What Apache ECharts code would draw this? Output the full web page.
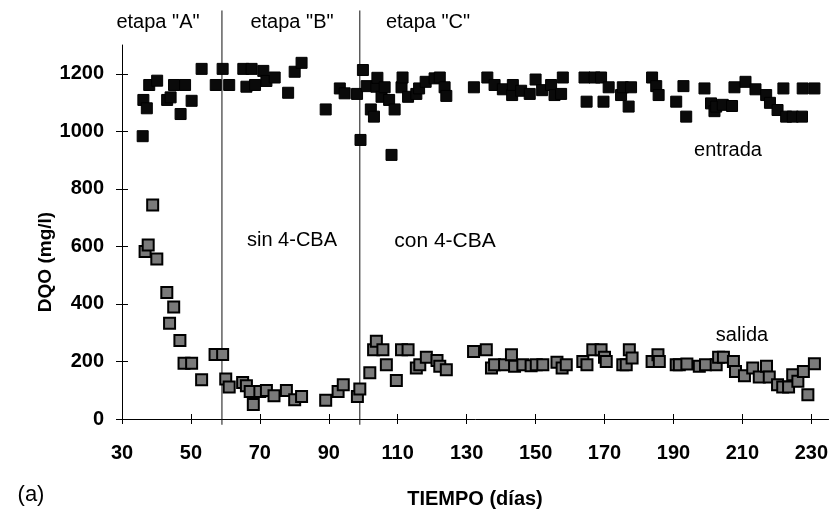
<!DOCTYPE html>
<html>
<head>
<meta charset="utf-8">
<script src="https://cdn.jsdelivr.net/npm/echarts@6/dist/echarts.min.js"></script>
<style>
  html, body { margin: 0; padding: 0; background: #fff; }
</style>
</head>
<body>
<div id="myChart" style="width:831px;height:509px"></div>
<script>
// ticks
var xTicks = [30, 50, 70, 90, 110, 130, 150, 170, 190, 210, 230];
var yTicks = [0, 200, 400, 600, 800, 1000, 1200];

// DQO de entrada (mg/l)
var entradaDias = [36.0, 36.2, 37.2, 37.9, 40.2, 43.1, 44.1, 45.1, 47.0, 48.3, 50.2, 53.1, 57.2, 59.2, 61.1,
  65.2, 66.1, 67.6, 68.6, 71.0, 71.9, 74.3, 78.2, 80.1, 82.1, 89.1, 93.2, 94.6, 98.2, 99.2, 99.9,
  101.0, 102.2, 103.1, 103.8, 104.1, 105.3, 106.2, 107.5, 108.2, 109.1, 111.1, 111.4, 113.0, 115.4,
  116.2, 118.1, 120.7, 122.2, 123.6, 124.1, 132.1, 136.0, 138.1, 140.5, 143.2, 143.4, 145.8, 148.3,
  150.0, 151.9, 154.5, 155.5, 157.4, 157.9, 164.2, 164.8, 167.1, 169.0, 169.7, 171.2, 174.8, 175.3,
  177.0, 177.7, 183.8, 185.0, 185.7, 190.8, 192.9, 193.7, 199.0, 200.9, 201.9, 202.4, 204.3, 207.0,
  207.7, 210.9, 213.8, 216.9, 218.0, 220.2, 221.9, 222.7, 224.6, 227.3, 227.5, 230.9];
var entradaDQO = [983, 1109, 1080, 1161, 1176, 1109, 1118, 1161, 1060, 1161, 1106, 1217, 1161, 1217, 1161,
  1217, 1155, 1217, 1161, 1210, 1175, 1187, 1134, 1207, 1238, 1076, 1149, 1132, 1130, 970, 1213,
  1157, 1076, 1051, 1155, 1186, 1120, 1153, 1109, 918, 1076, 1153, 1187, 1120, 1130,
  1149, 1172, 1184, 1187, 1153, 1123, 1153, 1187, 1161, 1146, 1126, 1161, 1141, 1130,
  1180, 1143, 1161, 1126, 1130, 1187, 1187, 1103, 1187, 1187, 1103, 1153, 1126, 1153,
  1086, 1153, 1187, 1157, 1126, 1103, 1157, 1051, 1149, 1097, 1070, 1086, 1092, 1088,
  1153, 1172, 1146, 1126, 1099, 1074, 1149, 1051, 1051, 1051, 1149, 1149];

// DQO de salida (mg/l)
var salidaDias = [36.7, 37.6, 38.9, 40.1, 43.0, 43.8, 45.0, 46.8, 48.0, 50.2, 53.1, 57.0, 59.2, 60.1, 61.1,
  65.0, 66.1, 67.2, 68.1, 70.0, 71.9, 74.1, 77.7, 80.1, 82.1, 89.1, 92.7, 94.2, 98.3, 99.0,
  101.9, 103.0, 103.8, 105.7, 106.7, 109.6, 111.1, 113.0, 115.4, 116.4, 118.3, 121.4, 122.2, 124.1,
  132.0, 135.7, 137.2, 138.1, 141.0, 143.0, 143.9, 146.3, 148.7, 150.2, 152.1, 156.2, 157.7, 158.9,
  163.7, 164.9, 166.6, 169.0, 170.0, 170.5, 175.3, 176.3, 177.2, 178.0, 183.8, 185.5, 185.9,
  190.8, 191.7, 193.9, 197.5, 199.3, 202.4, 203.1, 204.5, 207.4, 208.0, 210.6, 213.0, 214.9,
  217.0, 217.8, 220.2, 221.7, 223.4, 224.6, 226.1, 227.7, 229.0, 230.9];
var salidaDQO = [582, 605, 744, 556, 440, 333, 389, 273, 194, 194, 136, 224, 224, 139, 111,
  127, 116, 96, 50, 96, 99, 81, 99, 67, 78, 65, 96, 119, 78, 104,
  161, 241, 270, 241, 189, 134, 241, 241, 177, 189, 215, 203, 183, 171,
  235, 241, 177, 189, 189, 223, 183, 189, 185, 189, 189, 197, 177, 189,
  200, 189, 241, 241, 215, 200, 189, 189, 241, 212, 200, 223, 200,
  189, 189, 191, 183, 189, 189, 215, 215, 200, 165, 150, 177, 146,
  183, 146, 119, 111, 111, 154, 131, 165, 84, 192];

// limites entre etapas (dias)
var etapaLimites = [59, 99];

var fuente = "'Liberation Sans', Arial, sans-serif";

function pares(xs, ys) {
  return xs.map(function (x, i) { return [x, ys[i]]; });
}

var series = [
  {
    name: "entrada",
    type: "scatter",
    symbol: "rect",
    symbolSize: 11,
    itemStyle: { color: "#0a0a0a", borderColor: "#000", borderWidth: 1, opacity: 1 },
    data: pares(entradaDias, entradaDQO),
    z: 3
  },
  {
    name: "salida",
    type: "scatter",
    symbol: "rect",
    symbolSize: 11,
    itemStyle: { color: "#7a7a7a", borderColor: "#000", borderWidth: 2, opacity: 1 },
    data: pares(salidaDias, salidaDQO),
    z: 3
  }
];

etapaLimites.forEach(function (d) {
  series.push({
    type: "line",
    silent: true,
    clip: false,
    symbol: "none",
    lineStyle: { color: "#111", width: 1 },
    data: [[d, -20], [d, 1420]],
    z: 2
  });
});

function texto(t, x, y, size, weight, rot) {
  return {
    type: "text",
    x: x,
    y: y,
    rotation: rot || 0,
    style: {
      text: t,
      font: (weight || "normal") + " " + size + "px " + fuente,
      fill: "#000",
      align: "center",
      verticalAlign: "middle"
    }
  };
}

function simple(v) { return String(v); }

var option = {
  backgroundColor: "#fff",
  animation: false,
  grid: { left: 122, right: 2, top: 45, bottom: 90 },
  xAxis: [
    {
      type: "value",
      min: 30,
      max: 235,
      interval: 20,
      axisLine: { onZero: false, lineStyle: { color: "#000", width: 1 } },
      axisTick: { customValues: xTicks, length: 5, lineStyle: { color: "#000" } },
      axisLabel: { customValues: xTicks, formatter: simple, margin: 24, color: "#000", fontSize: 20, fontWeight: "bold", fontFamily: fuente },
      splitLine: { show: false }
    },
    {
      type: "value",
      min: 30,
      max: 235,
      interval: 20,
      position: "bottom",
      axisLine: { show: false },
      axisTick: { customValues: xTicks, inside: true, length: 5, lineStyle: { color: "#000" } },
      axisLabel: { show: false },
      splitLine: { show: false }
    }
  ],
  yAxis: [
    {
      type: "value",
      min: 0,
      max: 1300,
      interval: 200,
      axisLine: { show: true, onZero: false, lineStyle: { color: "#000", width: 1 } },
      axisTick: { show: true, customValues: yTicks, length: 6, lineStyle: { color: "#000" } },
      axisLabel: { customValues: yTicks, formatter: simple, margin: 18, color: "#000", fontSize: 20, fontWeight: "bold", fontFamily: fuente },
      splitLine: { show: false }
    },
    {
      type: "value",
      min: 0,
      max: 1300,
      interval: 200,
      position: "left",
      axisLine: { show: false },
      axisTick: { show: true, customValues: yTicks, inside: true, length: 6, lineStyle: { color: "#000" } },
      axisLabel: { show: false },
      splitLine: { show: false }
    }
  ],
  series: series,
  graphic: [
    texto('etapa "A"', 158, 22, 20),
    texto('etapa "B"', 292, 22, 20),
    texto('etapa "C"', 428, 22, 20),
    texto("sin 4-CBA", 292, 240, 20),
    texto("con 4-CBA", 445, 241, 21),
    texto("entrada", 728, 150, 20),
    texto("salida", 742, 335, 20),
    texto("DQO (mg/l)", 46, 262, 19, "bold", Math.PI / 2),
    texto("TIEMPO (días)", 475, 499, 20, "bold"),
    texto("(a)", 31, 495, 22)
  ]
};

var myChart = echarts.init(document.getElementById("myChart"), null, { renderer: "canvas" });
myChart.setOption(option);
</script>
</body>
</html>
